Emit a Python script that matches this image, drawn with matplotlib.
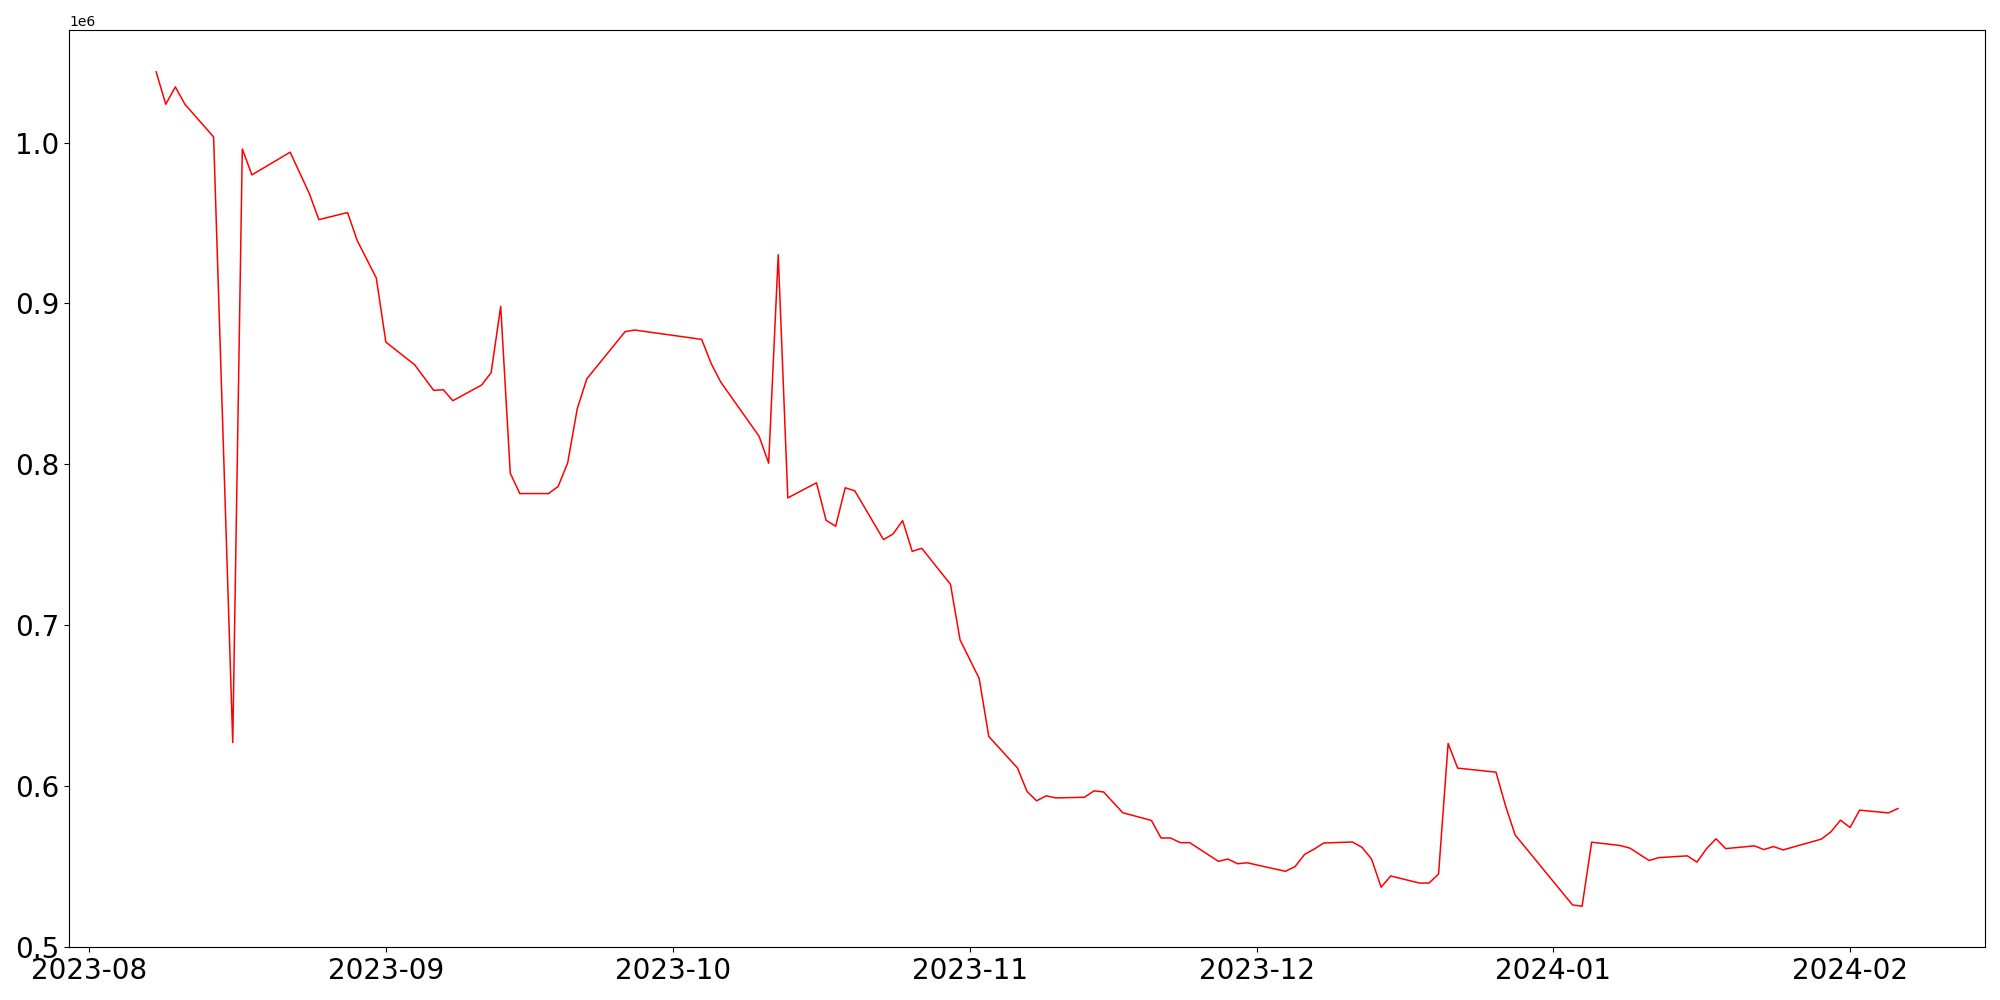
import pandas as pd
import matplotlib
matplotlib.use("Agg")
import matplotlib.pyplot as plt

dates = [
    "2023-08-08", "2023-08-09", "2023-08-10", "2023-08-11", "2023-08-14",
    "2023-08-16", "2023-08-17", "2023-08-18", "2023-08-22", "2023-08-24",
    "2023-08-25", "2023-08-28", "2023-08-29", "2023-08-31", "2023-09-01",
    "2023-09-04", "2023-09-06", "2023-09-07", "2023-09-08", "2023-09-11",
    "2023-09-12", "2023-09-13", "2023-09-14", "2023-09-15", "2023-09-18",
    "2023-09-19", "2023-09-20", "2023-09-21", "2023-09-22", "2023-09-26",
    "2023-09-27", "2023-10-04", "2023-10-05", "2023-10-06", "2023-10-10",
    "2023-10-11", "2023-10-12", "2023-10-13", "2023-10-16", "2023-10-17",
    "2023-10-18", "2023-10-19", "2023-10-20", "2023-10-23", "2023-10-24",
    "2023-10-25", "2023-10-26", "2023-10-27", "2023-10-30", "2023-10-31",
    "2023-11-02", "2023-11-03", "2023-11-06", "2023-11-07", "2023-11-08",
    "2023-11-09", "2023-11-10", "2023-11-13", "2023-11-14", "2023-11-15",
    "2023-11-17", "2023-11-20", "2023-11-21", "2023-11-22", "2023-11-23",
    "2023-11-24", "2023-11-27", "2023-11-28", "2023-11-29", "2023-11-30",
    "2023-12-04", "2023-12-05", "2023-12-06", "2023-12-07", "2023-12-08",
    "2023-12-11", "2023-12-12", "2023-12-13", "2023-12-14", "2023-12-15",
    "2023-12-18", "2023-12-19", "2023-12-20", "2023-12-21", "2023-12-22",
    "2023-12-26", "2023-12-27", "2023-12-28", "2024-01-03", "2024-01-04",
    "2024-01-05", "2024-01-08", "2024-01-09", "2024-01-11", "2024-01-12",
    "2024-01-15", "2024-01-16", "2024-01-17", "2024-01-18", "2024-01-19",
    "2024-01-22", "2024-01-23", "2024-01-24", "2024-01-25", "2024-01-29",
    "2024-01-30", "2024-01-31", "2024-02-01", "2024-02-02", "2024-02-05",
    "2024-02-06",
]

values = [
    1043900, 1023800, 1034600, 1023800, 1003500,
    627200, 996000, 979900, 994000, 968300,
    952100, 956500, 939200, 915800, 876000,
    862000, 846000, 846400, 839600, 849300,
    857000, 898200, 794500, 781900, 781900,
    786300, 801000, 834600, 853200, 882500,
    883500, 877700, 862600, 851100, 817500,
    800800, 930300, 779200, 788600, 765300,
    761600, 785500, 783600, 753300, 756800,
    765100, 746000, 747900, 725500, 691000,
    667000, 631000, 611400, 596800, 591000,
    594100, 592800, 593200, 597200, 596500,
    583600, 578800, 567900, 567900, 565000,
    565000, 553400, 554800, 551900, 552500,
    547200, 550100, 557700, 561000, 564800,
    565400, 562100, 554800, 537300, 544300,
    539900, 539900, 545500, 626600, 611300,
    608800, 587900, 569800, 526300, 525500,
    565300, 563200, 561600, 553900, 555700,
    556800, 552900, 561300, 567400, 561300,
    563000, 560700, 562600, 560500, 567200,
    571700, 579000, 574400, 585200, 583500,
    586200,
]

x = pd.to_datetime(dates)

fig, ax = plt.subplots(figsize=(20, 10), dpi=100)
ax.plot(x, values, color="red", linewidth=1.1)
ax.set_ylim(bottom=500000)
plt.xticks(fontsize=20)
plt.yticks(fontsize=20)
plt.tight_layout()
plt.savefig("out.png")
